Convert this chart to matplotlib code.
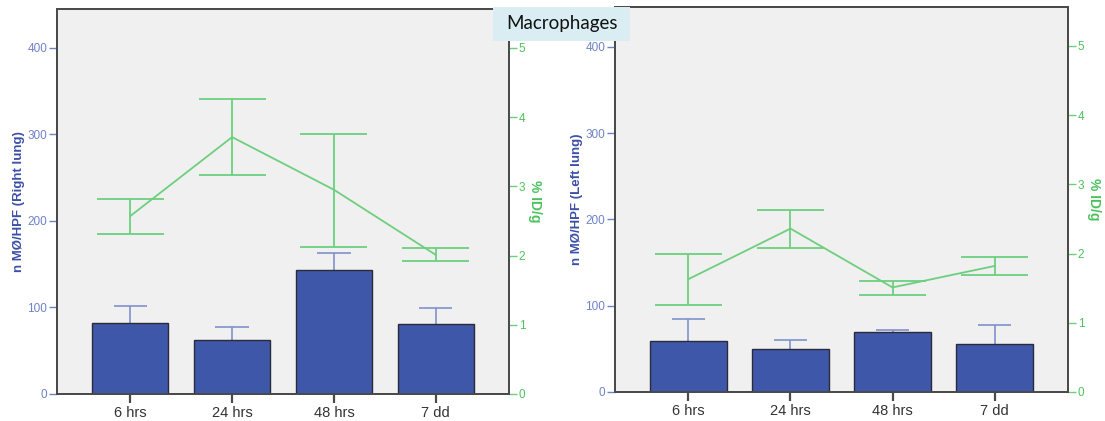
import matplotlib
matplotlib.use("Agg")
import matplotlib.pyplot as plt
from matplotlib.patches import Rectangle

categories = ["6 hrs", "24 hrs", "48 hrs", "7 dd"]

# Right lung: macrophage counts (bars) and uptake (% ID/g, line)
right_counts = [82, 62, 143, 81]
right_counts_err = [102, 77, 163, 99]
right_uptake = [2.57, 3.71, 2.95, 2.01]
right_uptake_hi = [2.82, 4.26, 3.76, 2.11]
right_uptake_lo = [2.31, 3.16, 2.12, 1.92]

# Left lung
left_counts = [59, 50, 69, 56]
left_counts_err = [85, 60, 72, 78]
left_uptake = [1.63, 2.36, 1.51, 1.82]
left_uptake_hi = [2.00, 2.63, 1.60, 1.95]
left_uptake_lo = [1.26, 2.08, 1.40, 1.69]

count_ticks = [0, 100, 200, 300, 400]
uptake_ticks = [0, 1, 2, 3, 4, 5]

BAR = "#3f57a8"
BAR_EDGE = "#2a2a3a"
BLUE_ERR = "#8090cc"
BLUE_TXT = "#6f82c8"
BLUE_LABEL = "#3b4fa8"
GREEN = "#6dcf7e"
GREEN_TXT = "#4dc25e"
FRAME = "#4a4a4a"
PANEL_BG = "#f0f0f0"

FONT = ["Liberation Sans", "DejaVu Sans"]

W, H = 1105, 421
fig = plt.figure(figsize=(W / 100, H / 100), dpi=100)


def panel(px_left, px_right, px_top, px_bottom, counts, counts_err,
          uptake, up_hi, up_lo, ylabel, count_max, uptake_max):
    ax = fig.add_axes([px_left / W, 1 - px_bottom / H,
                       (px_right - px_left) / W, (px_bottom - px_top) / H])
    ax.set_facecolor(PANEL_BG)
    x = list(range(len(categories)))

    # upward error whiskers of the counts, drawn beneath the bars
    ax.vlines(x, counts, counts_err, color=BLUE_ERR, lw=1.2, zorder=2)
    ax.hlines(counts_err, [i - 0.165 for i in x], [i + 0.165 for i in x],
              color=BLUE_ERR, lw=1.2, zorder=2)
    ax.bar(x, counts, width=0.75, color=BAR, edgecolor=BAR_EDGE,
           linewidth=1.0, zorder=3)

    ax.set_xlim(-0.72, 3.72)
    ax.set_ylim(0, count_max)
    ax.set_xticks(x)
    ax.set_xticklabels(categories, fontsize=10.5, color="#333333",
                       family=FONT)
    ax.set_yticks(count_ticks)
    ax.set_yticklabels([str(t) for t in count_ticks], fontsize=8.5,
                       color=BLUE_TXT, family=FONT)
    ax.tick_params(axis="x", length=6.5, width=1.6, color=FRAME, pad=2)
    ax.tick_params(axis="y", length=6, width=1.0, color=BLUE_TXT, pad=1)
    ax.set_ylabel(ylabel, fontsize=9.5, fontweight="bold",
                  color=BLUE_LABEL, family=FONT, labelpad=2)
    for s in ax.spines.values():
        s.set_color(FRAME)
        s.set_linewidth(1.3)

    ax2 = ax.twinx()
    ax2.set_ylim(0, uptake_max)
    ax2.plot(x, uptake, color=GREEN, lw=1.3, zorder=4)
    ax2.vlines(x, up_lo, up_hi, color=GREEN, lw=1.3, zorder=4)
    for y in (up_hi, up_lo):
        ax2.hlines(y, [i - 0.33 for i in x], [i + 0.33 for i in x],
                   color=GREEN, lw=1.3, zorder=4)
    ax2.set_yticks(uptake_ticks)
    ax2.set_yticklabels([str(t) for t in uptake_ticks], fontsize=8.5,
                        color=GREEN_TXT, family=FONT)
    ax2.tick_params(axis="y", length=6, width=1.0, color=GREEN, pad=1)
    ax2.set_ylabel("% ID/g", fontsize=10, fontweight="bold",
                   color=GREEN_TXT, family=FONT, rotation=270,
                   labelpad=12)
    for s in ax2.spines.values():
        s.set_color(FRAME)
        s.set_linewidth(1.3)
    return ax, ax2


panel(57, 509, 9, 394, right_counts, right_counts_err,
      right_uptake, right_uptake_hi, right_uptake_lo,
      "n MØ/HPF (Right lung)", 445, 5.56)
panel(615, 1068, 7, 392, left_counts, left_counts_err,
      left_uptake, left_uptake_hi, left_uptake_lo,
      "n MØ/HPF (Left lung)", 446, 5.56)

# title banner
fig.patches.append(Rectangle((493 / W, 1 - 41 / H), 137 / W, 34 / H,
                             transform=fig.transFigure, facecolor="#daedf3",
                             edgecolor="none", zorder=10))
fig.text(561.5 / W, 1 - 24 / H, "Macrophages", ha="center", va="center",
         fontsize=13.5, family=["Lato", "DejaVu Sans"], color="#111111",
         zorder=11)

fig.savefig("out.png", dpi=100)
